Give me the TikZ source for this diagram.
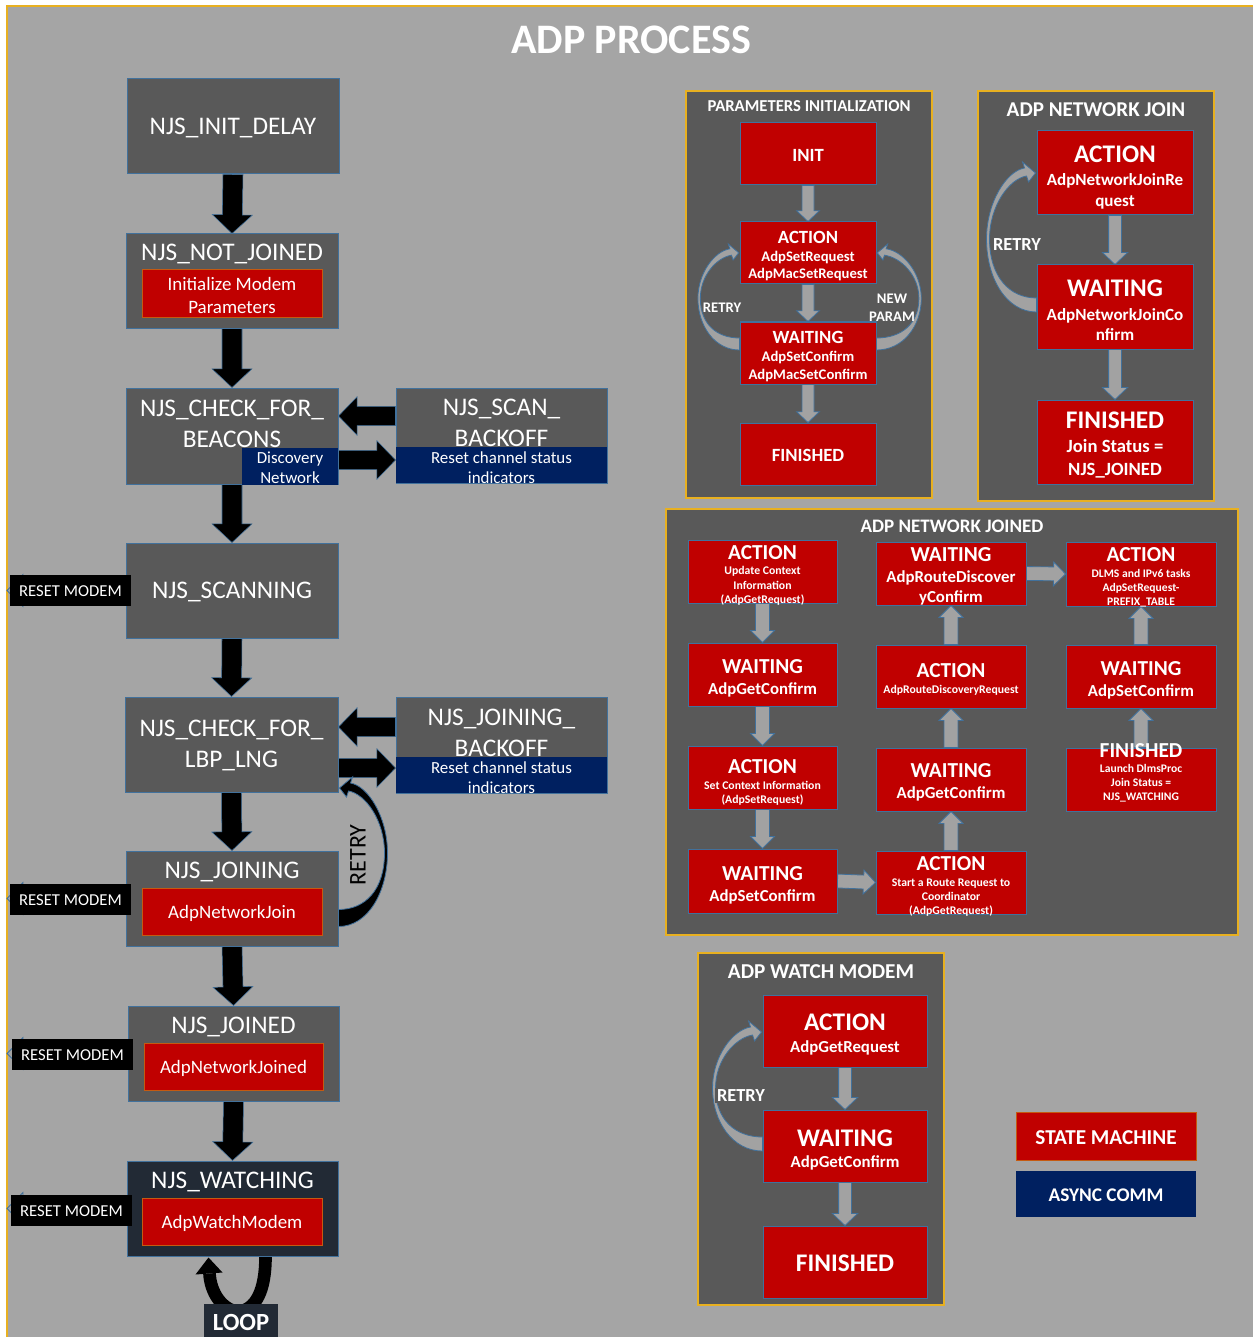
\documentclass[tikz,border=0pt]{standalone}
\usepackage{fontspec}
\setmainfont{Carlito}
\usetikzlibrary{calc}
\pgfdeclarelayer{back}
\pgfdeclarelayer{mid}
\pgfsetlayers{back,mid,main}

\definecolor{bgray}{HTML}{A5A5A5}
\definecolor{dgray}{HTML}{595959}
\definecolor{cred}{HTML}{C00000}
\definecolor{cnavy}{HTML}{002060}
\definecolor{edge}{HTML}{41719C}
\definecolor{gold}{HTML}{E8B020}
\definecolor{crust}{HTML}{C55A11}
\definecolor{slate}{HTML}{222A35}
\definecolor{agray}{HTML}{A2A2A2}

\newcommand\fState{\fontsize{19}{23.25}\selectfont}
\newcommand\fSub{\fontsize{14.2}{17.25}\selectfont}
\newcommand\fBlue{\fontsize{12.7}{15}\selectfont}
\newcommand\fReset{\fontsize{12.5}{15}\selectfont}

% straight block arrow: style, from, to, shaft half width, head half width, head length
\newcommand\blockarrow[6]{%
  \coordinate (bq) at ($(#3)!#6!(#2)$);
  \path[#1] ($(#2)!#4!90:(#3)$) -- ($(bq)!#4!90:(#3)$) -- ($(bq)!#5!90:(#3)$) -- (#3)
    -- ($(bq)!#5!-90:(#3)$) -- ($(bq)!#4!-90:(#3)$) -- ($(#2)!#4!-90:(#3)$) -- cycle;}

\begin{document}
\begin{tikzpicture}[x=0.75pt, y=-0.75pt,
  sz/.style 2 args={minimum width=#1*0.75pt, minimum height=#2*0.75pt},
  tx/.style={text=white, inner sep=0pt, align=center, yshift=-1.1pt},
  hp/.style 2 args={tx, font=\bfseries\fontsize{#1}{#2}\selectfont},
  st/.style={fill=dgray, draw=edge, line width=0.75pt, inner sep=0pt},
  rbl/.style={fill=cred, draw=crust, line width=0.75pt, inner sep=0pt},
  rb/.style={fill=cred, draw=edge, line width=0.75pt, inner sep=0pt},
  bb/.style={fill=cnavy, inner sep=0pt},
  panel/.style={fill=dgray, draw=gold, line width=0.9pt, inner sep=0pt},
  resetbox/.style={fill=black, inner sep=0pt, sz={121}{31}},
  blk/.style={fill=black, draw=edge, line width=0.4pt},
  gra/.style={fill=agray, draw=edge, line width=0.6pt},
  % curved retry arrow: depth, bulge, tail half width, fill, outline
  pics/crescent/.style n args={5}{code={
    \filldraw[fill=#4, draw=#5, line width=0.6pt]
      (0,#3) .. controls ({-0.6*#2},#3) and ({-#2},{-0.2*#1}) .. ({-#2},{-0.5*#1})
      .. controls ({-#2},{-0.78*#1}) and ({-0.6*#2},{-#1-2}) .. (-12,{-#1-5})
      -- (-14,{-#1-11}) -- (-1,{-#1}) -- (-8,{-#1+9}) -- (-10,{-#1+3})
      .. controls ({-0.55*#2},{-#1+6}) and ({-#2+3},{-0.75*#1}) .. ({-#2+3},{-0.5*#1})
      .. controls ({-#2+3},{-0.22*#1}) and ({-0.55*#2},{-#3}) .. (0,{-#3}) -- cycle;
  }}
]
\useasboundingbox (0,0) rectangle (1252,1337);

\begin{pgfonlayer}{back}
  \fill[white] (0,0) rectangle (1252,1337);
  \filldraw[fill=bgray, draw=gold, line width=1.1pt] (7,6) rectangle (1262,1347);
  \node[panel, sz={246}{407}] (ppanel) at (809,294.5) {};
  \node[panel, sz={236}{410}] (jpanel) at (1096,296) {};
  \node[panel, sz={572}{426}] (dpanel) at (952,722) {};
  \node[panel, sz={246}{352}] (wpanel) at (821,1129) {};
\end{pgfonlayer}

% title
\node[hp={31.5}{35}] (title) at (631,38) {ADP PROCESS};

% ---------------- join state machine ----------------
\node[st, sz={212}{95}] (init) at (233,126.5) {};
\node[tx, font=\fState] at (init) {NJS\_INIT\_DELAY};

\node[st, sz={212}{94}] (notj) at (232,281) {};
\node[tx, font=\fState] (notjt) at (232,253) {NJS\_NOT\_JOINED};
\node[rbl, sz={180}{48}] (notjr) at (232,294) {};
\node[tx, font=\fSub] at (notjr) {Initialize Modem\\Parameters};

\node[st, sz={212}{96}] (chkb) at (232,436) {};
\node[bb, sz={96}{37}] (chkbb) at (290,466.5) {};
\node[tx, font=\fBlue] at (chkbb) {Discovery\\Network};
\node[tx, font=\fState] (chkbt) at (232,422.5) {NJS\_CHECK\_FOR\_\\BEACONS};

\node[st, sz={211}{95}] (scanb) at (501.5,435.5) {};
\node[bb, sz={211}{36}] (scanbb) at (501.5,465) {};
\node[tx, font=\fBlue] at ($(scanbb)+(0,1)$) {Reset channel status\\indicators};
\node[tx, font=\fState] (scanbt) at (501.5,421) {NJS\_SCAN\_\\BACKOFF};

\node[st, sz={212}{95}] (scan) at (232,590.5) {};
\node[tx, font=\fState] at (scan) {NJS\_SCANNING};

\node[st, sz={213}{95}] (chkl) at (231.5,744.5) {};
\node[tx, font=\fState] at (chkl) {NJS\_CHECK\_FOR\_\\LBP\_LNG};

\node[st, sz={211}{96}] (joinb) at (501.5,745) {};
\node[bb, sz={211}{36}] (joinbb) at (501.5,775) {};
\node[tx, font=\fBlue] at ($(joinbb)+(0,1)$) {Reset channel status\\indicators};
\node[tx, font=\fState] (joinbt) at (501.5,731) {NJS\_JOINING\_\\BACKOFF};

\node[st, sz={212}{95}] (joining) at (232,898.5) {};
\node[tx, font=\fState] (joiningt) at (232,871) {NJS\_JOINING};
\node[rbl, sz={180}{47}] (joiningr) at (232,911.5) {};
\node[tx, font=\fSub] at (joiningr) {AdpNetworkJoin};

\node[st, sz={211}{95}] (joined) at (233.5,1053.5) {};
\node[tx, font=\fState] (joinedt) at (233.5,1026) {NJS\_JOINED};
\node[rbl, sz={179}{47}] (joinedr) at (233.5,1066.5) {};
\node[tx, font=\fSub] at (joinedr) {AdpNetworkJoined};

\node[st, fill=slate, sz={211}{95}] (watch) at (232.5,1208.5) {};
\node[tx, font=\fState] (watcht) at (232.5,1181) {NJS\_WATCHING};
\node[rbl, sz={180}{47}] (watchr) at (232,1221.5) {};
\node[tx, font=\fSub] at (watchr) {AdpWatchModem};

\node[resetbox] (rm1) at (70.5,590) {};
\node[resetbox] (rm2) at (70.5,899) {};
\node[resetbox] (rm3) at (72.5,1054) {};
\node[resetbox] (rm4) at (71.5,1210) {};
\foreach \r in {rm1,rm2,rm3,rm4}
  \node[tx, font=\fReset] at (\r) {RESET MODEM};

\node[fill=slate, sz={74}{34}, inner sep=0pt] (loop) at (241,1321) {};
\node[hp={18.5}{20}] at (loop) {LOOP};
\node[rotate=90, inner sep=0pt, font=\fontsize{18}{20}\selectfont] (retryl) at (358,855) {RETRY};

% ---------------- parameters initialization ----------------
\node[hp={12.5}{14}] (ptitle) at (809,105) {PARAMETERS INITIALIZATION};
\node[rb, sz={136}{62}] (pinit) at (808,154) {};
\node[hp={14}{16}] at (pinit) {INIT};
\node[rb, sz={136}{62}] (pact) at (808,253) {};
\node[hp={14}{16}] at (808,236) {ACTION};
\node[hp={11}{12.75}] at (808,264.5) {AdpSetRequest\\AdpMacSetRequest};
\node[rb, sz={136}{62}] (pwait) at (808,353) {};
\node[hp={14}{16}] at (808,336) {WAITING};
\node[hp={11}{13.5}] at (808,365) {AdpSetConfirm\\AdpMacSetConfirm};
\node[rb, sz={136}{62}] (pfin) at (808,454) {};
\node[hp={14}{16}] at (pfin) {FINISHED};
\node[hp={11}{13}] (pretry) at (722,306) {RETRY};
\node[hp={11}{13.5}] (pnew) at (892,306) {NEW\\PARAM};

% ---------------- adp network join ----------------
\node[hp={15.8}{18}] (jtitle) at (1096,108) {ADP NETWORK JOIN};
\node[rb, sz={156}{84}] (jact) at (1115,173) {};
\node[hp={19}{21}] at (1115,153) {ACTION};
\node[hp={12.8}{15.75}] at (1115,189.5) {AdpNetworkJoinRe\\quest};
\node[rb, sz={156}{84}] (jwait) at (1115,307) {};
\node[hp={19}{21}] at (1115,287) {WAITING};
\node[hp={12.8}{15}] at (1115,323) {AdpNetworkJoinCo\\nfirm};
\node[rb, sz={156}{84}] (jfin) at (1115,442) {};
\node[hp={19}{21}] at (1115,419) {FINISHED};
\node[hp={14}{17.25}] at (1115,457.5) {Join Status =\\NJS\_JOINED};
\node[hp={13.8}{15}] (jretry) at (1017,243) {RETRY};

% ---------------- adp network joined ----------------
\node[hp={14.3}{16}] (dtitle) at (952,525) {ADP NETWORK JOINED};
\node[rb, sz={149}{63}] (a1) at (762.5,571.5) {};
\node[hp={16}{18}] at (762.5,551) {ACTION};
\node[hp={8.8}{10.9}] at (762.5,584.5) {Update Context\\Information\\(AdpGetRequest)};
\node[rb, sz={149}{63}] (w1) at (762.5,674.5) {};
\node[hp={16}{18}] at (762.5,665) {WAITING};
\node[hp={12.6}{15}] at (762.5,688) {AdpGetConfirm};
\node[rb, sz={149}{63}] (a2) at (762.5,777.5) {};
\node[hp={16}{18}] at (762.5,765) {ACTION};
\node[hp={8.8}{10.5}] at (762.5,792) {Set Context Information\\(AdpSetRequest)};
\node[rb, sz={149}{64}] (w2) at (762.5,881) {};
\node[hp={16}{18}] at (762.5,872) {WAITING};
\node[hp={12.6}{15}] at (762.5,895) {AdpSetConfirm};

\node[rb, sz={150}{63}] (w3) at (951,573.5) {};
\node[hp={16}{18}] at (951,553) {WAITING};
\node[hp={12.6}{15}] at (951,586) {AdpRouteDiscover\\yConfirm};
\node[rb, sz={150}{63}] (a3) at (951,676.5) {};
\node[hp={16}{18}] at (951,669) {ACTION};
\node[hp={8.8}{10}] at (951,689) {AdpRouteDiscoveryRequest};
\node[rb, sz={150}{63}] (w4) at (951,779.5) {};
\node[hp={16}{18}] at (951,769) {WAITING};
\node[hp={12.6}{15}] at (951,792) {AdpGetConfirm};
\node[rb, sz={150}{63}] (a4) at (951,882.5) {};
\node[hp={16}{18}] at (951,862) {ACTION};
\node[hp={8.8}{10.5}] at (951,896) {Start a Route Request to\\Coordinator\\(AdpGetRequest)};

\node[rb, sz={150}{64}] (a5) at (1141,574) {};
\node[hp={16}{18}] at (1141,553) {ACTION};
\node[hp={8.7}{10.5}] at (1141,587) {DLMS and IPv6 tasks\\AdpSetRequest-\\PREFIX\_TABLE};
\node[rb, sz={150}{63}] (w5) at (1141,676.5) {};
\node[hp={16}{18}] at (1141,667) {WAITING};
\node[hp={12.6}{15}] at (1141,690) {AdpSetConfirm};
\node[rb, sz={150}{63}] (f5) at (1141,779.5) {};
\node[hp={16}{18}] at (1141,749) {FINISHED};
\node[hp={8.7}{10.5}] at (1141,782) {Launch DlmsProc\\Join Status =\\NJS\_WATCHING};

% ---------------- adp watch modem ----------------
\node[hp={15.9}{18}] (wtitle) at (821,970) {ADP WATCH MODEM};
\node[rb, sz={164}{72}] (wact) at (845,1031) {};
\node[hp={19}{21}] at (845,1021) {ACTION};
\node[hp={12.6}{15}] at (845,1046) {AdpGetRequest};
\node[rb, sz={164}{72}] (wwait) at (845,1146) {};
\node[hp={19}{21}] at (845,1137) {WAITING};
\node[hp={12.6}{15}] at (845,1161) {AdpGetConfirm};
\node[rb, sz={164}{72}] (wfin) at (845,1262) {};
\node[hp={19}{21}] at (wfin) {FINISHED};
\node[hp={13.8}{15}, fill=dgray, inner sep=1.5pt] (wretry) at (741,1094) {RETRY};

% ---------------- legend ----------------
\node[fill=cred, draw=crust, line width=0.75pt, sz={180}{48}, inner sep=0pt] (lgsm) at (1106,1136) {};
\node[hp={15.9}{17}] at (lgsm) {STATE MACHINE};
\node[fill=cnavy, sz={180}{46}, inner sep=0pt] (lgac) at (1106,1194) {};
\node[hp={14.5}{17}] at (lgac) {ASYNC COMM};

% ---------------- connectors ----------------
\begin{pgfonlayer}{mid}
  % main flow
  \blockarrow{blk}{init.south}{notj.north}{7.5pt}{15pt}{14pt}
  \blockarrow{blk}{notj.south}{chkb.north}{7.5pt}{15pt}{14pt}
  \blockarrow{blk}{chkb.south}{scan.north}{7.5pt}{15pt}{14pt}
  \blockarrow{blk}{scan.south}{chkl.north}{7.5pt}{15pt}{14pt}
  \blockarrow{blk}{chkl.south}{joining.north}{7.5pt}{15pt}{14pt}
  \blockarrow{blk}{joining.south}{joined.north}{7.5pt}{15pt}{14pt}
  \blockarrow{blk}{joined.south}{watch.north}{7.5pt}{15pt}{14pt}

  % backoff exchanges
  \coordinate (h1a) at ($(scanb.west)+(0,-19.5)$);
  \coordinate (h1b) at (chkb.east |- h1a);
  \coordinate (h2a) at ($(chkb.east)+(0,24)$);
  \coordinate (h2b) at (scanb.west |- h2a);
  \coordinate (h3a) at ($(joinb.west)+(0,-18)$);
  \coordinate (h3b) at (chkl.east |- h3a);
  \coordinate (h4a) at ($(chkl.east)+(0,23.5)$);
  \coordinate (h4b) at (joinb.west |- h4a);
  \blockarrow{blk}{h1a}{h1b}{7.2pt}{14.5pt}{14pt}
  \blockarrow{blk}{h2a}{h2b}{7.2pt}{14.5pt}{14pt}
  \blockarrow{blk}{h3a}{h3b}{7.2pt}{14.5pt}{14pt}
  \blockarrow{blk}{h4a}{h4b}{7.2pt}{14.5pt}{14pt}

  % reset modem exits
  \coordinate (lx) at (7,0);
  \coordinate (rt1) at (lx |- scan.west);
  \coordinate (rt2) at (lx |- joining.west);
  \coordinate (rt3) at (lx |- joined.west);
  \coordinate (rt4) at (lx |- watch.west);
  \blockarrow{gra}{scan.west}{rt1}{7.5pt}{12pt}{12pt}
  \blockarrow{gra}{joining.west}{rt2}{7.5pt}{12pt}{12pt}
  \blockarrow{gra}{joined.west}{rt3}{7.5pt}{12pt}{12pt}
  \blockarrow{gra}{watch.west}{rt4}{7.5pt}{12pt}{12pt}

  % retry from joining back to lbp check
  \pic[xscale=-1] at ($(joining.east)+(0,19.5)$) {crescent={130}{49}{8.5}{black}{edge}};

  % watching loop
  \coordinate (lpR) at ($(watch.south)+(33,0)$);
  \coordinate (lpL) at ($(watch.south)+(-23,17)$);
  \coordinate (lpT) at ($(watch.south)+(-24,1)$);
  \coordinate (lpB) at ($(loop.north)+(-3,8)$);
  \draw[line width=9.5pt] (lpR) .. controls ($(lpR)+(0,34)$) and ($(lpB)+(18,-2)$) .. (lpB)
    .. controls ($(lpB)+(-16,-2)$) and ($(lpL)+(1,19)$) .. (lpL);
  \fill (lpT) -- ($(lpL)+(-14,1)$) -- ($(lpL)+(13,-1)$) -- cycle;

  % parameters initialization
  \blockarrow{gra}{pinit.south}{pact.north}{4.5pt}{8.5pt}{8pt}
  \blockarrow{gra}{pact.south}{pwait.north}{4.5pt}{8.5pt}{8pt}
  \blockarrow{gra}{pwait.south}{pfin.north}{4.5pt}{8.5pt}{8pt}
  \pic[scale=0.8] at ($(pwait.west)+(0,-9)$) {crescent={114}{52}{7.5}{agray}{edge}};
  \pic[scale=0.8, xscale=-1] at ($(pwait.east)+(0,-9)$) {crescent={114}{56}{7.5}{agray}{edge}};

  % adp network join
  \blockarrow{gra}{jact.south}{jwait.north}{4.8pt}{9.5pt}{9pt}
  \blockarrow{gra}{jwait.south}{jfin.north}{4.8pt}{9.5pt}{9pt}
  \pic at ($(jwait.west)+(0,-2)$) {crescent={132}{50}{7}{agray}{edge}};

  % adp network joined
  \blockarrow{gra}{a1.south}{w1.north}{5.2pt}{9pt}{9pt}
  \blockarrow{gra}{w1.south}{a2.north}{5.2pt}{9pt}{9pt}
  \blockarrow{gra}{a2.south}{w2.north}{5.2pt}{9pt}{9pt}
  \blockarrow{gra}{w2.east}{a4.west}{5.2pt}{9pt}{9pt}
  \blockarrow{gra}{a4.north}{w4.south}{5.2pt}{9pt}{9pt}
  \blockarrow{gra}{w4.north}{a3.south}{5.2pt}{9pt}{9pt}
  \blockarrow{gra}{a3.north}{w3.south}{5.2pt}{9pt}{9pt}
  \blockarrow{gra}{w3.east}{a5.west}{5.2pt}{9pt}{9pt}
  \blockarrow{gra}{w5.north}{a5.south}{5.2pt}{9pt}{9pt}
  \blockarrow{gra}{f5.north}{w5.south}{5.2pt}{9pt}{9pt}

  % adp watch modem
  \blockarrow{gra}{wact.south}{wwait.north}{4.8pt}{9.5pt}{9pt}
  \blockarrow{gra}{wwait.south}{wfin.north}{4.8pt}{9.5pt}{9pt}
  \pic at ($(wwait.west)+(0,-2)$) {crescent={112}{50}{7}{agray}{edge}};
\end{pgfonlayer}
\end{tikzpicture}
\end{document}
